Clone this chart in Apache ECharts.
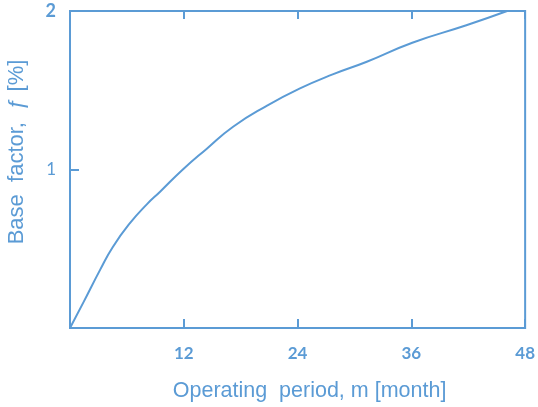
<!DOCTYPE html>
<html>
<head>
<meta charset="utf-8">
<script src="https://cdn.jsdelivr.net/npm/echarts@6/dist/echarts.min.js"></script>
<style>
html, body { margin: 0; padding: 0; background: #fff; }
#main { width: 538px; height: 407px; }
</style>
</head>
<body>
<div id="main"></div>
<script>
// operating period m [month] and base factor f [%]
var months = [0, 1.4, 3.2, 4.5, 6.3, 8.1, 9.5, 11.9, 14.4, 17.2, 20.7, 24.2, 27.7, 31.3, 36.1, 41.8, 46.1];
var factor = [0, 0.16, 0.37, 0.51, 0.66, 0.78, 0.86, 1.0, 1.13, 1.27, 1.40, 1.51, 1.60, 1.68, 1.80, 1.91, 2.0];
var xTicks = [12, 24, 36, 48];
var yTicks = [1, 2];

var blue = "#5b9bd5";
var pts = [];
for (var i = 0; i < months.length; i++) {
    pts.push([months[i], factor[i]]);
}

var myChart = echarts.init(document.getElementById("main"));
var option = {
    animation: false,
    grid: {
        left: 70, right: 12, top: 11, bottom: 74,
        show: true, borderColor: blue, borderWidth: 2
    },
    xAxis: [{
        type: "value", min: 0, max: 48, interval: 12,
        name: "Operating  period, m [month]",
        nameLocation: "middle", nameGap: 52,
        nameTextStyle: { color: blue, fontSize: 21.5, fontFamily: "Liberation Sans", padding: [0, 0, 0, 24] },
        axisLine: { lineStyle: { color: blue, width: 2 } },
        axisTick: { inside: true, length: 9, lineStyle: { color: blue, width: 2 } },
        splitLine: { show: false },
        axisLabel: {
            color: blue, fontSize: 17, fontWeight: "bold", fontFamily: "Lato", margin: 17,
            formatter: function (v) { return xTicks.indexOf(v) >= 0 ? String(v) : ""; }
        }
    }, {
        type: "value", min: 0, max: 48, interval: 12, position: "top",
        axisLine: { show: false },
        axisTick: { inside: true, length: 8, lineStyle: { color: blue, width: 2 } },
        axisLabel: { show: false },
        splitLine: { show: false }
    }],
    yAxis: {
        type: "value", min: 0, max: 2, interval: 1,
        axisLine: { lineStyle: { color: blue, width: 2 } },
        axisTick: { inside: true, length: 9, lineStyle: { color: blue, width: 2 } },
        splitLine: { show: false },
        axisLabel: {
            color: blue, fontSize: 17, fontFamily: "Lato", margin: 14,
            formatter: function (v) {
                if (yTicks.indexOf(v) < 0) return "";
                return v === 2 ? "{b|" + v + "}" : String(v);
            },
            rich: { b: { fontWeight: "bold", fontSize: 18, color: blue, fontFamily: "Lato" } }
        }
    },
    graphic: [{
        type: "text",
        x: 17, y: 152,
        rotation: Math.PI / 2,
        style: {
            text: "Base  factor,  \u0192 [%]",
            fill: blue, fontSize: 22, fontFamily: "Liberation Sans",
            textAlign: "center", textVerticalAlign: "middle"
        }
    }],
    series: [{
        type: "line",
        data: pts,
        smooth: 0.5,
        showSymbol: false,
        lineStyle: { color: blue, width: 2 }
    }]
};
myChart.setOption(option);
</script>
</body>
</html>
